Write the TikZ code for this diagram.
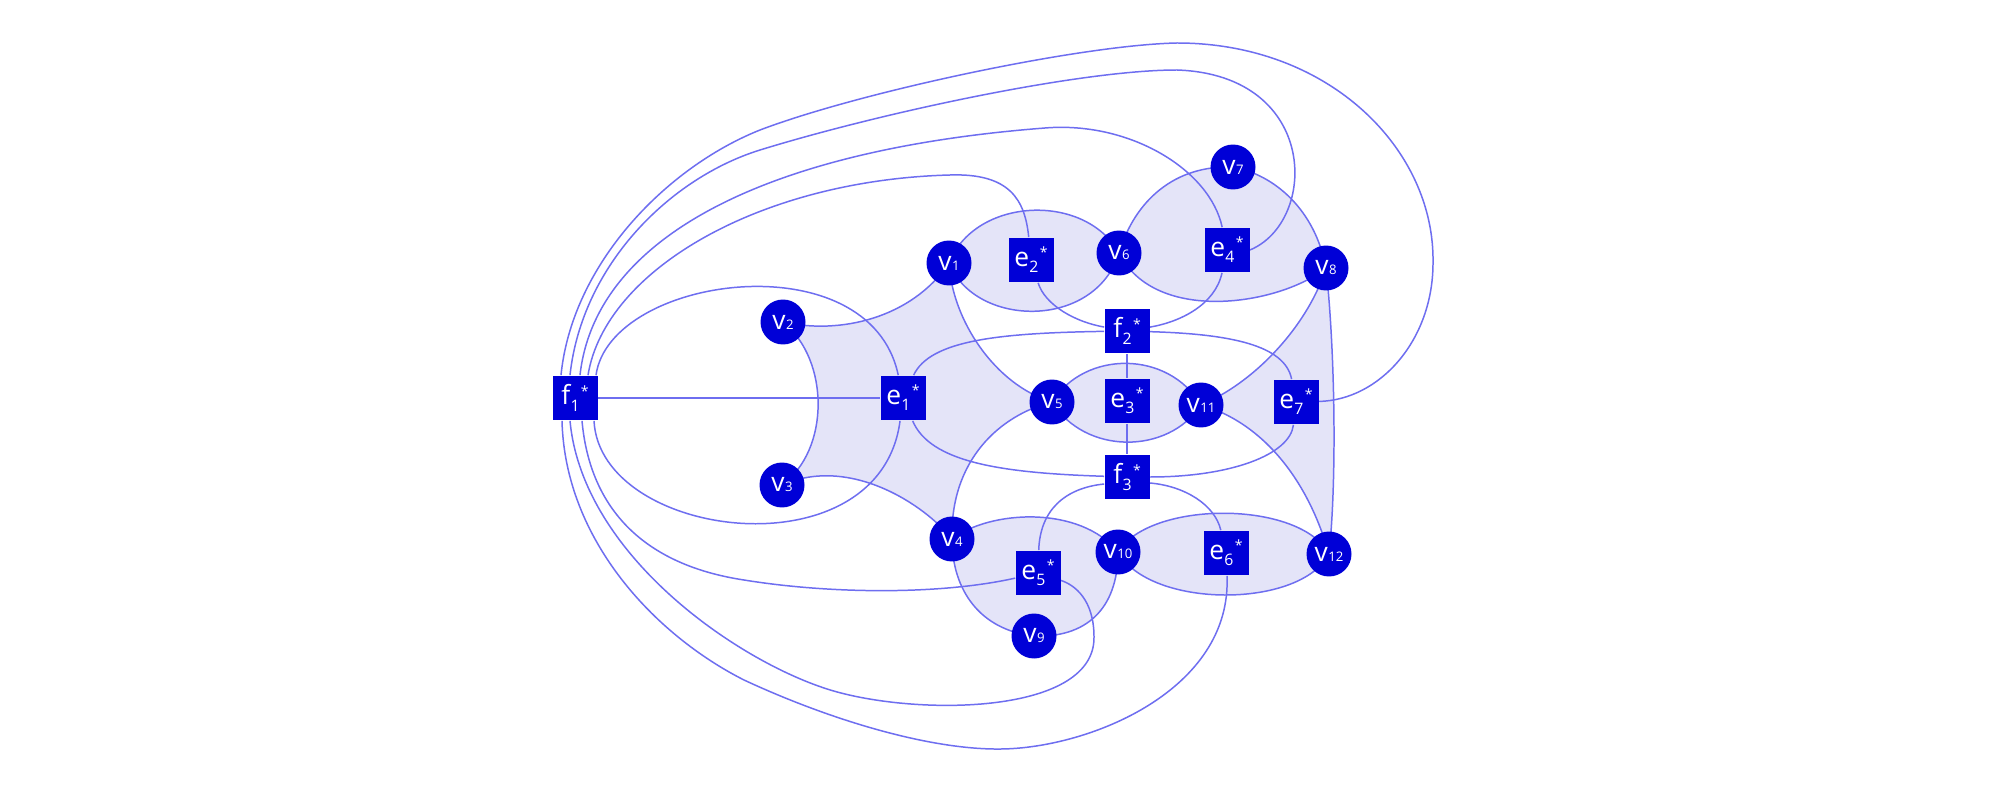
\documentclass[tikz,border=0pt]{standalone}
\usepackage{fontspec}
\setmainfont{Open Sans}
\usetikzlibrary{calc}
\definecolor{nodeblue}{RGB}{0,0,215}
\definecolor{lineblue}{RGB}{110,110,240}
\definecolor{regionfill}{RGB}{228,228,248}
\pgfdeclarelayer{bg}
\pgfsetlayers{bg,main}
\newcommand{\vl}[1]{v\kern0.3pt{\fontsize{7.5}{7.5}\selectfont #1}}
\newcommand{\dl}[2]{#1\kern0.2pt\raisebox{-3.8pt}{\fontsize{9}{9}\selectfont #2}\kern0.8pt\raisebox{4.8pt}{\fontsize{8}{8}\selectfont *}}
\begin{document}
\begin{tikzpicture}[x=0.02cm,y=-0.02cm,
  vn/.style={circle, fill=nodeblue, text=white, minimum size=0.9cm, inner sep=0pt, font=\fontsize{15}{15}\selectfont},
  dn/.style={rectangle, fill=nodeblue, text=white, minimum size=0.9cm, inner sep=0pt, font=\fontsize{15}{15}\selectfont},
  dline/.style={draw=lineblue, line width=0.85pt},
  hreg/.style={fill=regionfill, draw=lineblue, line width=0.85pt}]
\useasboundingbox (0,0) rectangle (2000,800);
% vertices
\node[vn] (v1) at (949,263) {\vl{1}};
\node[vn] (v2) at (783,322) {\vl{2}};
\node[vn] (v3) at (782,485) {\vl{3}};
\node[vn] (v4) at (952,539) {\vl{4}};
\node[vn] (v5) at (1052,402) {\vl{5}};
\node[vn] (v6) at (1119,253) {\vl{6}};
\node[vn] (v7) at (1233,167) {\vl{7}};
\node[vn] (v8) at (1326,268) {\vl{8}};
\node[vn] (v9) at (1034,636) {\vl{9}};
\node[vn] (v10) at (1118,552) {\vl{10}};
\node[vn] (v11) at (1201,405) {\vl{11}};
\node[vn] (v12) at (1329,554) {\vl{12}};
% dual nodes
\node[dn] (f1) at (575,398) {\dl{f}{1}};
\node[dn] (f2) at (1127,331) {\dl{f}{2}};
\node[dn] (f3) at (1127,477) {\dl{f}{3}};
\node[dn] (e1) at (903,398) {\dl{e}{1}};
\node[dn] (e2) at (1031,260) {\dl{e}{2}};
\node[dn] (e3) at (1127,401) {\dl{e}{3}};
\node[dn] (e4) at (1227,250) {\dl{e}{4}};
\node[dn] (e5) at (1038,573) {\dl{e}{5}};
\node[dn] (e6) at (1226,553) {\dl{e}{6}};
\node[dn] (e7) at (1296,402) {\dl{e}{7}};
% attachment points
\coordinate (f1t1) at ($(f1.north)+(-14,0)$);
\coordinate (f1t2) at ($(f1.north)+(-5,0)$);
\coordinate (f1t3) at ($(f1.north)+(5,0)$);
\coordinate (f1t4) at ($(f1.north)+(13,0)$);
\coordinate (f1t5) at ($(f1.north)+(21,0)$);
\coordinate (f1b1) at ($(f1.south)+(-13,0)$);
\coordinate (f1b2) at ($(f1.south)+(-5,0)$);
\coordinate (f1b3) at ($(f1.south)+(7,0)$);
\coordinate (f1b4) at ($(f1.south)+(19,0)$);
\coordinate (f3l) at ($(f3.west)+(0,7)$);
\coordinate (f3r) at ($(f3.east)+(0,6)$);
\begin{pgfonlayer}{bg}
\fill[white] (0,0) rectangle (2000,800);
% hyperedge regions
\path[hreg] (v2.center) .. controls (840,335) and (912,318) .. (v1.center)
  .. controls (952,320) and (995,385) .. (v5.center)
  .. controls (1000,415) and (950,460) .. (v4.center)
  .. controls (925,505) and (850,455) .. (v3.center)
  .. controls (830,450) and (830,360) .. cycle;
\path[hreg] (v1.center) .. controls (975,197) and (1085,192) .. (v6.center)
  .. controls (1095,330) and (975,328) .. cycle;
\path[hreg] (v5.center) .. controls (1085,350) and (1168,350) .. (v11.center)
  .. controls (1168,455) and (1085,455) .. cycle;
\path[hreg] (v6.center) .. controls (1135,200) and (1175,165) .. (v7.center)
  .. controls (1275,175) and (1315,210) .. (v8.center)
  .. controls (1280,305) and (1155,325) .. cycle;
\path[hreg] (v4.center) .. controls (990,510) and (1080,505) .. (v10.center)
  .. controls (1118,610) and (1085,638) .. (v9.center)
  .. controls (980,630) and (952,590) .. cycle;
\path[hreg] (v10.center) .. controls (1150,500) and (1300,500) .. (v12.center)
  .. controls (1300,609) and (1150,609) .. cycle;
\path[hreg] (v8.center) .. controls (1310,320) and (1260,380) .. (v11.center)
  .. controls (1255,420) and (1305,470) .. (v12.center)
  .. controls (1337,480) and (1335,350) .. cycle;
% dual edges from f1
\draw[dline] (f1) -- (e1);
\draw[dline] (f1t5) .. controls (610,275) and (870,240) .. (e1);
\draw[dline] (f1t4) .. controls (605,270) and (760,180) .. (950,175)
  .. controls (1010,173) and (1025,200) .. (e2);
\draw[dline] (f1t3) .. controls (595,240) and (760,150) .. (1045,128)
  .. controls (1130,121) and (1210,170) .. (e4);
\draw[dline] (f1t2) .. controls (582,265) and (670,178) .. (760,150)
  .. controls (880,113) and (1080,70) .. (1177,70)
  .. controls (1320,75) and (1318,222) .. (e4.east);
\draw[dline] (f1t1) .. controls (572,265) and (665,168) .. (760,130)
  .. controls (860,92) and (1080,45) .. (1177,43)
  .. controls (1330,43) and (1435,150) .. (1433,263)
  .. controls (1433,340) and (1380,400) .. (e7);
\draw[dline] (f1b4) .. controls (600,540) and (880,575) .. (e1);
\draw[dline] (f1b3) .. controls (590,510) and (645,565) .. (744,580)
  .. controls (830,594) and (940,595) .. (e5);
\draw[dline] (f1b2) .. controls (583,560) and (750,670) .. (841,693)
  .. controls (930,716) and (1095,712) .. (1094,637)
  .. controls (1094,600) and (1075,585) .. (e5);
\draw[dline] (f1b1) .. controls (565,540) and (655,635) .. (744,680)
  .. controls (830,720) and (930,750) .. (1001,749)
  .. controls (1090,748) and (1232,690) .. (e6);
% other dual edges
\draw[dline] (e2) .. controls (1045,305) and (1075,322) .. (f2);
\draw[dline] (e4) .. controls (1215,305) and (1180,322) .. (f2);
\draw[dline] (e1) .. controls (930,340) and (1000,333) .. (f2);
\draw[dline] (e1) .. controls (930,462) and (1000,473) .. (f3);
\draw[dline] (e3) -- (f2);
\draw[dline] (e3) -- (f3);
\draw[dline] (f2) .. controls (1230,334) and (1285,345) .. (e7);
\draw[dline] (f3) .. controls (1230,477) and (1290,455) .. (e7);
\draw[dline] (f3l) .. controls (1065,488) and (1040,510) .. (e5);
\draw[dline] (f3r) .. controls (1185,486) and (1215,505) .. (e6);
\end{pgfonlayer}
\end{tikzpicture}
\end{document}
